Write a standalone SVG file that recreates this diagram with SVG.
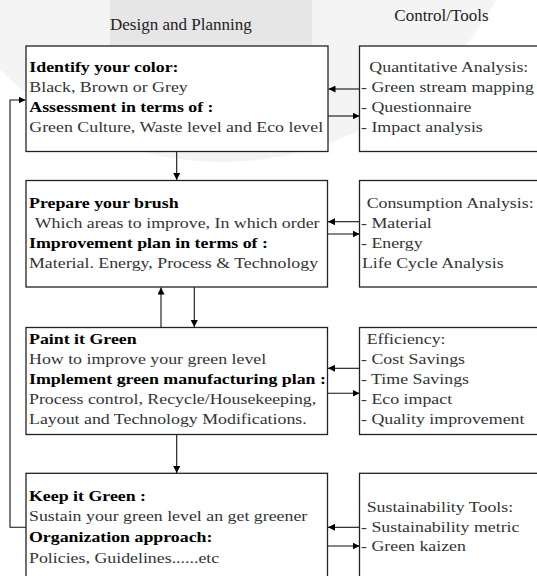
<svg xmlns="http://www.w3.org/2000/svg" width="537" height="576" viewBox="0 0 537 576">
<style>
.box{fill:#fff;stroke:#222;stroke-width:1.3}
.t{font-family:"Liberation Serif","Times New Roman",serif;font-size:14.5px;fill:#333}
.b{font-weight:bold;fill:#000}
.h{font-family:"Liberation Serif","Times New Roman",serif;font-size:17px;fill:#222}
.c{fill:none;stroke:#111;stroke-width:1.1}
</style>
<defs>
<marker id="ah" markerUnits="userSpaceOnUse" markerWidth="8" markerHeight="7" refX="7" refY="3.5" orient="auto">
<path d="M0,0 L7,3.5 L0,7 z" fill="#000"/>
</marker>
</defs>
<rect width="537" height="576" fill="#fff"/>
<g id="watermark">
<circle cx="222" cy="-151" r="313" fill="#f4f4f4"/>
<rect x="110" y="0" width="202" height="100" fill="#e6e6e6"/>
</g>
<g id="headings">
<text class="h" x="110" y="30">Design and Planning</text>
<text class="h" x="394.3" y="21">Control/Tools</text>
</g>
<g id="connectors">
<path class="c" d="M360,89 H328.5" marker-end="url(#ah)"/>
<path class="c" d="M328,116 H359.5" marker-end="url(#ah)"/>
<path class="c" d="M360,221.7 H328" marker-end="url(#ah)"/>
<path class="c" d="M327.5,234 H359.5" marker-end="url(#ah)"/>
<path class="c" d="M360,368.3 H328" marker-end="url(#ah)"/>
<path class="c" d="M327.5,393.3 H359.5" marker-end="url(#ah)"/>
<path class="c" d="M360,527.3 H328" marker-end="url(#ah)"/>
<path class="c" d="M327.5,546 H359.5" marker-end="url(#ah)"/>
<path class="c" d="M176.7,151.5 V180" marker-end="url(#ah)"/>
<path class="c" d="M161,327.5 V287.5" marker-end="url(#ah)"/>
<path class="c" d="M194.3,287 V327" marker-end="url(#ah)"/>
<path class="c" d="M176.7,434.3 V473" marker-end="url(#ah)"/>
<path class="c" d="M26,527.3 H10 V100 H25.5" marker-end="url(#ah)"/>
</g>
<g id="n1">
<rect class="box" x="26" y="46" width="302" height="105.5"/>
<text class="t" transform="matrix(1.23 0 0 1 29.3 0)"><tspan class="b" x="0" y="72.5">Identify your color:</tspan><tspan x="0" y="92.3">Black, Brown or Grey</tspan><tspan class="b" x="0" y="112">Assessment in terms of :</tspan><tspan x="0" y="131.8">Green Culture, Waste level and Eco level</tspan></text>
</g>
<g id="n2">
<rect class="box" x="26" y="180.5" width="301.5" height="106.5"/>
<text class="t" transform="matrix(1.23 0 0 1 29 0)"><tspan class="b" x="0" y="208.3">Prepare your brush</tspan><tspan x="4.7" y="228.3">Which areas to improve, In which order</tspan><tspan class="b" x="0" y="248.3">Improvement plan in terms of :</tspan><tspan x="0" y="268.3">Material. Energy, Process &amp; Technology</tspan></text>
</g>
<g id="n3">
<rect class="box" x="26" y="327.5" width="301.5" height="107"/>
<text class="t" transform="matrix(1.23 0 0 1 29 0)"><tspan class="b" x="0" y="344">Paint it Green</tspan><tspan x="0" y="364">How to improve your green level</tspan><tspan class="b" x="0" y="384">Implement green manufacturing plan :</tspan><tspan x="0" y="404">Process control, Recycle/Housekeeping,</tspan><tspan x="0" y="424">Layout and Technology Modifications.</tspan></text>
</g>
<g id="n4">
<rect class="box" x="26" y="473.3" width="301.5" height="112"/>
<text class="t" transform="matrix(1.23 0 0 1 29 0)"><tspan class="b" x="0" y="500.7">Keep it Green :</tspan><tspan x="0" y="521">Sustain your green level an get greener</tspan><tspan class="b" x="0" y="542">Organization approach:</tspan><tspan x="0" y="563">Policies, Guidelines......etc</tspan></text>
</g>
<g id="r1">
<rect class="box" x="359.5" y="46" width="190" height="105.5"/>
<text class="t" transform="matrix(1.23 0 0 1 361 0)"><tspan x="6.8" y="72.5">Quantitative Analysis:</tspan><tspan x="0" y="92.3">- Green stream mapping</tspan><tspan x="0" y="112">- Questionnaire</tspan><tspan x="0" y="131.8">- Impact analysis</tspan></text>
</g>
<g id="r2">
<rect class="box" x="359.5" y="180.5" width="190" height="106.5"/>
<text class="t" transform="matrix(1.23 0 0 1 361 0)"><tspan x="4.6" y="208.3">Consumption Analysis:</tspan><tspan x="0" y="228.3">- Material</tspan><tspan x="0" y="248.3">- Energy</tspan><tspan x="0.8" y="268.3">Life Cycle Analysis</tspan></text>
</g>
<g id="r3">
<rect class="box" x="359.5" y="327.5" width="190" height="107"/>
<text class="t" transform="matrix(1.23 0 0 1 361 0)"><tspan x="4.6" y="344">Efficiency:</tspan><tspan x="0" y="364">- Cost Savings</tspan><tspan x="0" y="384">- Time Savings</tspan><tspan x="0" y="404">- Eco impact</tspan><tspan x="0" y="424">- Quality improvement</tspan></text>
</g>
<g id="r4">
<rect class="box" x="359.5" y="473.3" width="190" height="112"/>
<text class="t" transform="matrix(1.23 0 0 1 361 0)"><tspan x="4.6" y="511.7">Sustainability Tools:</tspan><tspan x="0" y="531.7">- Sustainability metric</tspan><tspan x="0" y="551">- Green kaizen</tspan></text>
</g>
</svg>
